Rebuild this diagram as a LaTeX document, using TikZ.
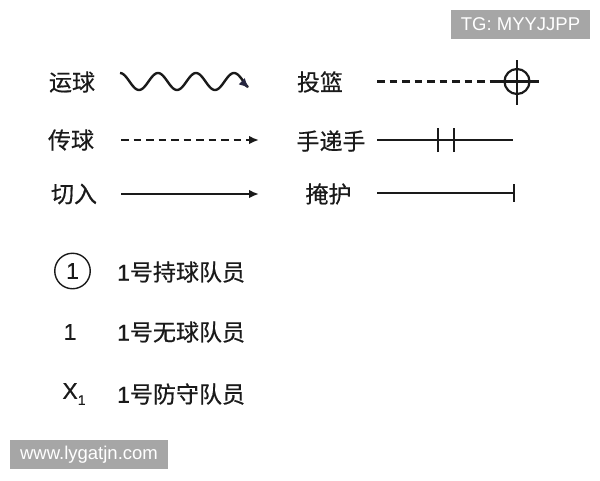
\documentclass[tikz,border=0pt]{standalone}
\usepackage{fontspec}
\setmainfont{Noto Sans CJK SC}[FakeBold=0.5]
\newfontfamily\wmfont{Liberation Sans}
\newfontfamily\latf{Liberation Sans}[FakeBold=0.6]
\usetikzlibrary{arrows.meta}
\definecolor{wmgray}{HTML}{A6A6A6}
\definecolor{tipnavy}{HTML}{262640}
\definecolor{inkc}{HTML}{1A1A1A}
\begin{document}
\begin{tikzpicture}[x=1pt,y=-1pt,
  lbl/.style={font=\fontsize{23}{27}\selectfont, inner sep=0pt, anchor=center, text=inkc},
  ln/.style={line width=2.4pt, draw=inkc},
  tipend/.style={-{Latex[length=10pt,width=8.5pt]}},
  dsh/.style={dash pattern=on 7.5pt off 5pt},
  wm/.style={fill=wmgray, text=white, font=\wmfont\fontsize{18.5}{22}\selectfont, inner sep=0pt, minimum height=29pt}]
\useasboundingbox (0,0) rectangle (600,480);
\fill[white] (0,0) rectangle (600,480);

% watermarks
\node[wm, minimum width=139pt] (wmtop) at (520.5,24.5) {TG: MYYJJPP};
\node[wm, minimum width=158pt] (wmbot) at (89,454.5) {www.lygatjn.com};

% labels
\node[lbl] (l1) at (72,82) {运球};
\node[lbl] (l2) at (71,140) {传球};
\node[lbl] (l3) at (74,194) {切入};
\node[lbl] (r1) at (320,82) {投篮};
\node[lbl] (r2) at (331,141) {手递手};
\node[lbl] (r3) at (328.5,194) {掩护};

% dribble
\draw[ln, -{Latex[length=10pt,width=9pt,color=tipnavy]}]
  plot[domain=0:129, samples=120] ({120+\x}, {81.5-8.5*cos(9.4737*\x)});

% pass
\coordinate (p1) at (121,140);
\coordinate (p2) at (259,140);
\draw[ln, dsh, tipend] (p1) -- (p2);

% cut
\coordinate (c1) at (121,194);
\coordinate (c2) at (259,194);
\draw[ln, tipend] (c1) -- (c2);

% shot
\coordinate (s1) at (377,81.5);
\node[circle, draw=inkc, line width=2.2pt, minimum size=25pt, inner sep=0pt] (hoop) at (517,81.5) {};
\draw[ln, dsh] (s1) -- (hoop.west);
\draw[ln] ([xshift=-22pt]hoop.center) -- ([xshift=22pt]hoop.center);
\draw[ln] ([yshift=-23pt]hoop.center) -- ([yshift=22pt]hoop.center);

% hand-off
\coordinate (h1) at (377,140);
\coordinate (h2) at (513,140);
\draw[ln] (h1) -- (h2);
\coordinate (t1) at (438,140);
\coordinate (t2) at (454,140);
\draw[ln] ([yshift=-12pt]t1) -- ([yshift=12pt]t1);
\draw[ln] ([yshift=-12pt]t2) -- ([yshift=12pt]t2);

% screen
\coordinate (k1) at (377,193);
\coordinate (k2) at (514,193);
\draw[ln] (k1) -- (k2);
\draw[ln] ([yshift=-8.5pt]k2) -- ([yshift=9.5pt]k2);

% player legend
\node[circle, draw=inkc, line width=1.4pt, minimum size=35.5pt, inner sep=0pt,
      font=\latf\fontsize{23}{27}\selectfont, text=inkc] (pc) at (72.5,271) {1};
\node[lbl, font=\latf\fontsize{23}{27}\selectfont] (pn) at (70,332) {1};
\node[lbl, font=\latf\fontsize{23}{27}\selectfont] (px) at (74,394) {X\raisebox{-6pt}{\fontsize{14}{16}\selectfont 1}};
\node[lbl, anchor=west] (t1l) at (117,272) {{\latf 1}号持球队员};
\node[lbl, anchor=west] (t2l) at (117,332) {{\latf 1}号无球队员};
\node[lbl, anchor=west] (t3l) at (117,394) {{\latf 1}号防守队员};
\end{tikzpicture}
\end{document}
